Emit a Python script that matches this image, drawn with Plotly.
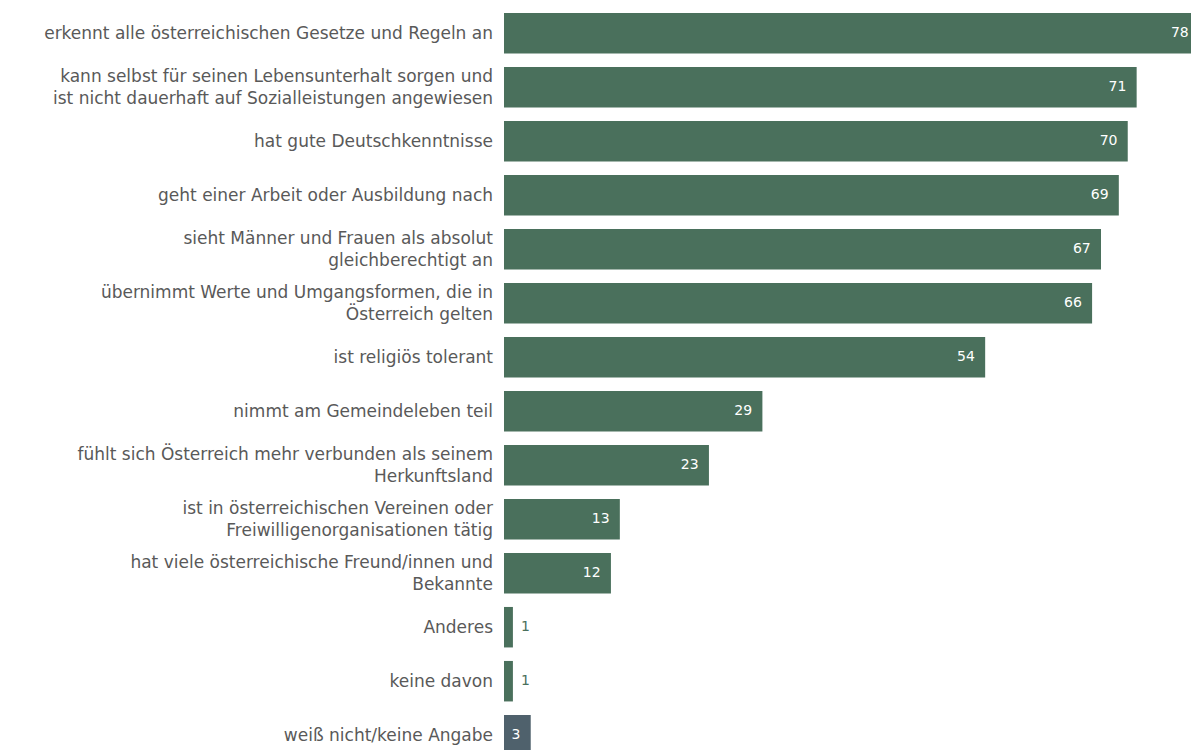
import plotly.graph_objects as go

# Survey items (top to bottom) and share of respondents in percent
categories = [
    "erkennt alle österreichischen Gesetze und Regeln an",
    "kann selbst für seinen Lebensunterhalt sorgen und<br>ist nicht dauerhaft auf Sozialleistungen angewiesen",
    "hat gute Deutschkenntnisse",
    "geht einer Arbeit oder Ausbildung nach",
    "sieht Männer und Frauen als absolut<br>gleichberechtigt an",
    "übernimmt Werte und Umgangsformen, die in<br>Österreich gelten",
    "ist religiös tolerant",
    "nimmt am Gemeindeleben teil",
    "fühlt sich Österreich mehr verbunden als seinem<br>Herkunftsland",
    "ist in österreichischen Vereinen oder<br>Freiwilligenorganisationen tätig",
    "hat viele österreichische Freund/innen und<br>Bekannte",
    "Anderes",
    "keine davon",
    "weiß nicht/keine Angabe",
]
values = [78, 71, 70, 69, 67, 66, 54, 29, 23, 13, 12, 1, 1, 3]

GREEN = "#4a705c"
SLATE = "#4f616c"
FONT = "DejaVu Sans"

bar_colors = [SLATE if c.startswith("weiß nicht") else GREEN for c in categories]
idx = list(range(len(categories)))

# value labels: inside the bar end when it fits, otherwise just to the right
inside = [v >= 2 for v in values]
in_x = [v - 1.15 for v, ok in zip(values, inside) if ok]
in_y = [i for i, ok in zip(idx, inside) if ok]
in_t = [str(v) for v, ok in zip(values, inside) if ok]
out_x = [v + 0.9 for v, ok in zip(values, inside) if not ok]
out_y = [i for i, ok in zip(idx, inside) if not ok]
out_t = [str(v) for v, ok in zip(values, inside) if not ok]

fig = go.Figure()
fig.add_trace(go.Bar(
    x=values, y=idx, orientation="h",
    marker=dict(color=bar_colors, line=dict(width=0)),
    hoverinfo="skip",
))
fig.add_trace(go.Scatter(
    x=in_x, y=in_y, mode="text", text=in_t, textposition="middle left",
    textfont=dict(family=FONT, size=14, color="white"),
    cliponaxis=False, hoverinfo="skip",
))
fig.add_trace(go.Scatter(
    x=out_x, y=out_y, mode="text", text=out_t, textposition="middle right",
    textfont=dict(family=FONT, size=14, color=GREEN),
    cliponaxis=False, hoverinfo="skip",
))

fig.update_layout(
    width=1191, height=750,
    margin=dict(l=504, r=0, t=0, b=0),
    paper_bgcolor="white", plot_bgcolor="white",
    showlegend=False, bargap=0.25,
    font=dict(family=FONT, size=17, color="#595959"),
)
fig.update_xaxes(range=[0, 77.1], visible=False, showgrid=False, zeroline=False)
fig.update_yaxes(
    range=[13.274, -0.615],
    tickmode="array", tickvals=idx, ticktext=categories,
    showgrid=False, zeroline=False, showline=False, ticks="",
    ticklabelstandoff=10,
    tickfont=dict(family=FONT, size=17, color="#595959"),
)

fig.write_html("out.html")
